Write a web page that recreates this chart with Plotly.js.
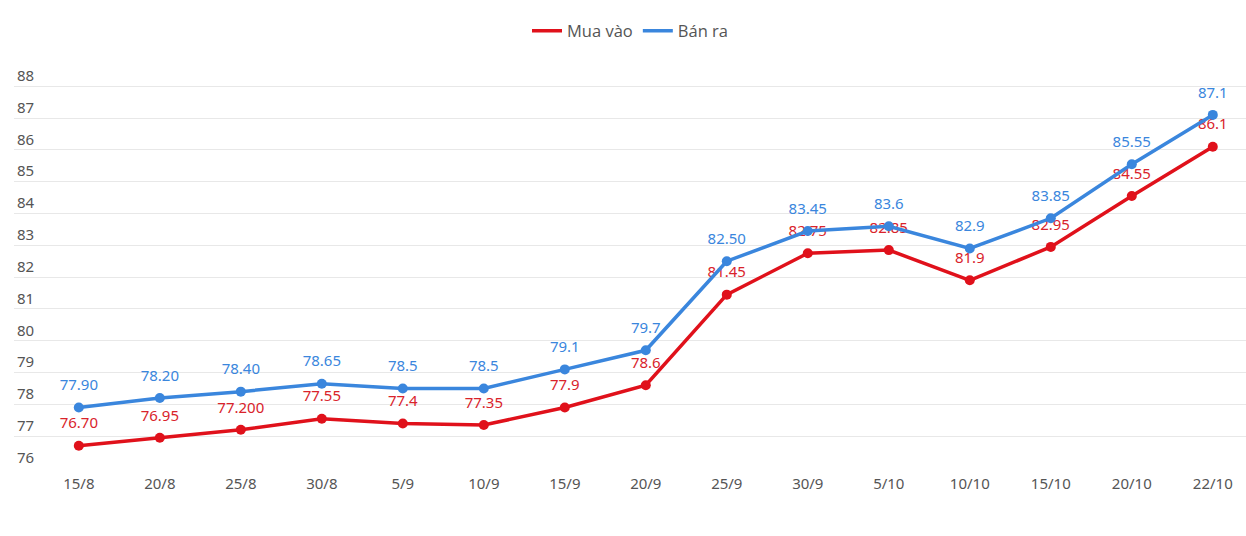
<!DOCTYPE html>
<html>
<head>
<meta charset="utf-8">
<script src="https://cdn.plot.ly/plotly-3.0.1.min.js"></script>
<style>html,body{margin:0;padding:0;background:#fff;}#chart{width:1246px;height:536px;}</style>
</head>
<body>
<div id="chart"></div>
<script>
const categories = ["15/8","20/8","25/8","30/8","5/9","10/9","15/9","20/9","25/9","30/9","5/10","10/10","15/10","20/10","22/10"];
const buyValues = [76.70, 76.95, 77.2, 77.55, 77.4, 77.35, 77.9, 78.6, 81.45, 82.75, 82.85, 81.9, 82.95, 84.55, 86.1];
const buyLabels = ["76.70","76.95","77.200","77.55","77.4","77.35","77.9","78.6","81.45","82.75","82.85","81.9","82.95","84.55","86.1"];
const sellValues = [77.90, 78.20, 78.40, 78.65, 78.5, 78.5, 79.1, 79.7, 82.50, 83.45, 83.6, 82.9, 83.85, 85.55, 87.1];
const sellLabels = ["77.90","78.20","78.40","78.65","78.5","78.5","79.1","79.7","82.50","83.45","83.6","82.9","83.85","85.55","87.1"];
const yTicks = [76,77,78,79,80,81,82,83,84,85,86,87,88];

const RED = "#e0111b";
const BLUE = "#3a86dd";

function seriesTraces(name, values, labels, color, textColor) {
  return [
    { // line + markers
      name: name, x: categories, y: values,
      type: "scatter", mode: "lines+markers",
      line: {color: color, width: 3.5}, marker: {color: color, size: 10},
      showlegend: false, hoverinfo: "x+y", legendgroup: name
    },
    { // value labels
      name: name, x: categories, y: values, text: labels,
      type: "scatter", mode: "markers+text", textposition: "top center",
      marker: {color: "rgba(0,0,0,0)", size: 20},
      textfont: {family: "Noto Sans", size: 15, color: textColor},
      showlegend: false, hoverinfo: "skip", cliponaxis: false, legendgroup: name
    },
    { // legend entry (line only)
      name: name, x: [null], y: [null],
      type: "scatter", mode: "lines",
      line: {color: color, width: 3.5},
      showlegend: true, legendgroup: name
    }
  ];
}

const traces = [
  ...seriesTraces("Mua vào", buyValues, buyLabels, RED, "#d9232b"),
  ...seriesTraces("Bán ra", sellValues, sellLabels, BLUE, BLUE)
];

const layout = {
  width: 1246, height: 536,
  margin: {l: 14, r: 0, t: 64, b: 68},
  paper_bgcolor: "#fff", plot_bgcolor: "#fff",
  font: {family: "Noto Sans", size: 15, color: "#555"},
  showlegend: true,
  legend: {
    orientation: "h", xref: "paper", x: 0.5, xanchor: "center",
    yref: "container", y: 0.942, yanchor: "middle",
    font: {family: "Open Sans", size: 16.5, color: "#555"},
    itemwidth: 30, traceorder: "normal"
  },
  xaxis: {
    type: "category", range: [-0.8, 14.41],
    showgrid: false, zeroline: false, showline: false, ticks: "",
    ticklabelstandoff: 5,
    tickfont: {family: "Noto Sans", size: 15, color: "#555"},
    fixedrange: true
  },
  yaxis: {
    range: [76, 88.7], tickvals: yTicks, ticktext: yTicks.map(String),
    showgrid: true, gridcolor: "#e8e8e8", gridwidth: 1,
    zeroline: false, showline: false, ticks: "",
    ticklabelposition: "inside top",
    tickfont: {family: "Noto Sans", size: 15, color: "#555"},
    fixedrange: true
  },
  hovermode: "closest"
};

Plotly.newPlot("chart", traces, layout, {displayModeBar: false});
</script>
</body>
</html>
